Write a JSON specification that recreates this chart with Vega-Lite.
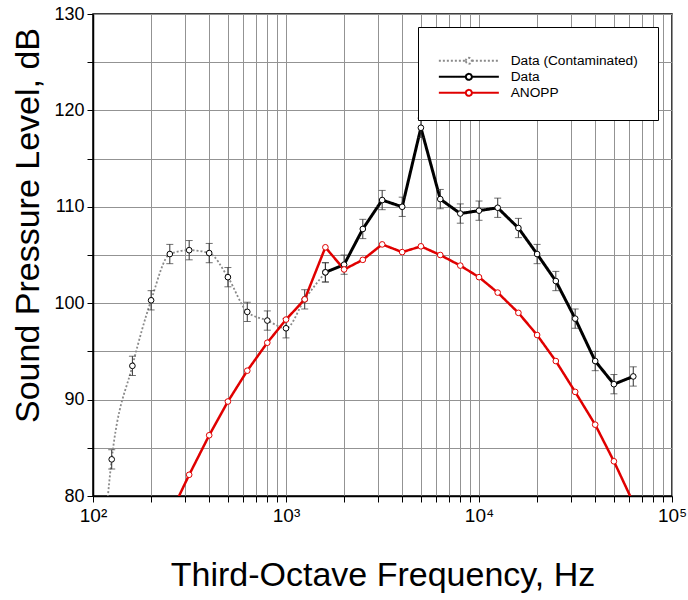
{
  "$schema": "https://vega.github.io/schema/vega-lite/v6.json",
  "autosize": {"type": "none"},
  "padding": {"left": 93, "top": 14, "right": 16, "bottom": 104},
  "width": 579,
  "height": 482,
  "background": "white",
  "config": {
    "font": "Liberation Sans",
    "view": {"stroke": "black", "strokeWidth": 1.5},
    "axis": {
      "labelFont": "Liberation Sans",
      "titleFont": "Liberation Sans",
      "labelColor": "black",
      "titleColor": "black",
      "titleFontWeight": "normal",
      "gridColor": "#939393",
      "gridWidth": 1,
      "gridOpacity": 1,
      "domainColor": "black",
      "domainWidth": 1.5,
      "tickColor": "black",
      "labelOverlap": false,
      "labelFlush": false
    }
  },
  "data": {
    "values": [
      {"freq": 100, "spl": 60, "series": "Data (Contaminated)", "err": 1},
      {"freq": 125, "spl": 83.8, "series": "Data (Contaminated)", "err": 1},
      {"freq": 160, "spl": 93.5, "series": "Data (Contaminated)", "err": 1},
      {"freq": 200, "spl": 100.3, "series": "Data (Contaminated)", "err": 1},
      {"freq": 250, "spl": 105.1, "series": "Data (Contaminated)", "err": 1},
      {"freq": 315, "spl": 105.5, "series": "Data (Contaminated)", "err": 1},
      {"freq": 400, "spl": 105.2, "series": "Data (Contaminated)", "err": 1},
      {"freq": 500, "spl": 102.7, "series": "Data (Contaminated)", "err": 1},
      {"freq": 630, "spl": 99.1, "series": "Data (Contaminated)", "err": 1},
      {"freq": 800, "spl": 98.2, "series": "Data (Contaminated)", "err": 1},
      {"freq": 1000, "spl": 97.4, "series": "Data (Contaminated)", "err": 1},
      {"freq": 1250, "spl": 100.4, "series": "Data (Contaminated)", "err": 1},
      {"freq": 1600, "spl": 103.2, "series": "Data (Contaminated)", "err": 1},
      {"freq": 1600, "spl": 103.2, "series": "Data", "err": 1},
      {"freq": 2000, "spl": 104.0, "series": "Data", "err": 1},
      {"freq": 2500, "spl": 107.7, "series": "Data", "err": 1},
      {"freq": 3150, "spl": 110.7, "series": "Data", "err": 1},
      {"freq": 4000, "spl": 110.0, "series": "Data", "err": 1},
      {"freq": 5000, "spl": 118.2, "series": "Data", "err": 1},
      {"freq": 6300, "spl": 110.8, "series": "Data", "err": 1},
      {"freq": 8000, "spl": 109.3, "series": "Data", "err": 1},
      {"freq": 10000, "spl": 109.6, "series": "Data", "err": 1},
      {"freq": 12500, "spl": 109.9, "series": "Data", "err": 1},
      {"freq": 16000, "spl": 107.8, "series": "Data", "err": 1},
      {"freq": 20000, "spl": 105.1, "series": "Data", "err": 1},
      {"freq": 25000, "spl": 102.3, "series": "Data", "err": 1},
      {"freq": 31500, "spl": 98.4, "series": "Data", "err": 1},
      {"freq": 40000, "spl": 94.0, "series": "Data", "err": 1},
      {"freq": 50000, "spl": 91.6, "series": "Data", "err": 1},
      {"freq": 63000, "spl": 92.4, "series": "Data", "err": 1},
      {"freq": 250, "spl": 78.0, "series": "ANOPP", "err": 0},
      {"freq": 315, "spl": 82.2, "series": "ANOPP", "err": 0},
      {"freq": 400, "spl": 86.3, "series": "ANOPP", "err": 0},
      {"freq": 500, "spl": 89.8, "series": "ANOPP", "err": 0},
      {"freq": 630, "spl": 93.0, "series": "ANOPP", "err": 0},
      {"freq": 800, "spl": 95.9, "series": "ANOPP", "err": 0},
      {"freq": 1000, "spl": 98.3, "series": "ANOPP", "err": 0},
      {"freq": 1250, "spl": 100.4, "series": "ANOPP", "err": 0},
      {"freq": 1600, "spl": 105.8, "series": "ANOPP", "err": 0},
      {"freq": 2000, "spl": 103.5, "series": "ANOPP", "err": 0},
      {"freq": 2500, "spl": 104.5, "series": "ANOPP", "err": 0},
      {"freq": 3150, "spl": 106.1, "series": "ANOPP", "err": 0},
      {"freq": 4000, "spl": 105.3, "series": "ANOPP", "err": 0},
      {"freq": 5000, "spl": 105.9, "series": "ANOPP", "err": 0},
      {"freq": 6300, "spl": 105.0, "series": "ANOPP", "err": 0},
      {"freq": 8000, "spl": 103.9, "series": "ANOPP", "err": 0},
      {"freq": 10000, "spl": 102.7, "series": "ANOPP", "err": 0},
      {"freq": 12500, "spl": 101.1, "series": "ANOPP", "err": 0},
      {"freq": 16000, "spl": 99.0, "series": "ANOPP", "err": 0},
      {"freq": 20000, "spl": 96.7, "series": "ANOPP", "err": 0},
      {"freq": 25000, "spl": 94.0, "series": "ANOPP", "err": 0},
      {"freq": 31500, "spl": 90.8, "series": "ANOPP", "err": 0},
      {"freq": 40000, "spl": 87.4, "series": "ANOPP", "err": 0},
      {"freq": 50000, "spl": 83.6, "series": "ANOPP", "err": 0},
      {"freq": 63000, "spl": 79.3, "series": "ANOPP", "err": 0}
    ]
  },
  "encoding": {
    "x": {
      "field": "freq", "type": "quantitative",
      "scale": {"type": "log", "domain": [100, 100000], "nice": false},
      "axis": {
        "title": "Third-Octave Frequency, Hz",
        "titleFontSize": 34,
        "titlePadding": 33,
        "values": [100,200,300,400,500,600,700,800,900,1000,2000,3000,4000,5000,6000,7000,8000,9000,10000,20000,30000,40000,50000,60000,70000,80000,90000,100000],
        "labelExpr": "datum.value == 100 ? '10²' : datum.value == 1000 ? '10³' : datum.value == 10000 ? '10⁴' : datum.value == 100000 ? '10⁵' : ''",
        "labelFontSize": 19,
        "labelPadding": 4,
        "tickSize": 6,
        "grid": true
      }
    },
    "y": {
      "field": "spl", "type": "quantitative",
      "scale": {"domain": [80, 130], "nice": false, "zero": false},
      "axis": {
        "title": "Sound Pressure Level, dB",
        "titleFontSize": 34,
        "titlePadding": 8,
        "titleY": 211,
        "titleAlign": "center",
        "values": [80,85,90,95,100,105,110,115,120,125,130],
        "labelExpr": "datum.value % 10 == 0 ? datum.label : ''",
        "labelFontSize": 18,
        "labelPadding": 3,
        "tickSize": 6,
        "grid": true
      }
    }
  },
  "layer": [
    {
      "transform": [{"filter": "datum.series == 'Data (Contaminated)'"}],
      "mark": {"type": "line", "strokeWidth": 1.8, "interpolate": "monotone", "clip": true},
      "encoding": {
        "color": {
          "field": "series", "type": "nominal",
          "scale": {"domain": ["Data (Contaminated)", "Data", "ANOPP"], "range": ["#8a8a8a", "black", "#e00000"]},
          "legend": {
            "title": " ",
            "titleFontSize": 5,
            "titlePadding": 2,
            "orient": "none",
            "legendX": 325,
            "legendY": 13,
            "fillColor": "white",
            "strokeColor": "black",
            "padding": 20,
            "symbolType": "M-6,0L-0.6,0M0.6,0L6,0M-0.6,0A0.6,0.6,0,1,1,0.6,0A0.6,0.6,0,1,1,-0.6,0Z",
            "symbolSize": 100,
            "symbolOffset": 24,
            "symbolStrokeWidth": 2,
            "symbolFillColor": "white",
            "labelFont": "Liberation Sans",
            "labelFontSize": 13.7,
            "labelColor": "black",
            "labelOffset": 35,
            "rowPadding": 1
          }
        },
        "strokeDash": {
          "field": "series", "type": "nominal",
          "scale": {"domain": ["Data (Contaminated)", "Data", "ANOPP"], "range": [[2, 2], [1, 0], [1, 0]]}
        }
      }
    },
    {
      "transform": [{"filter": "datum.series == 'Data'"}],
      "mark": {"type": "line", "strokeWidth": 3, "clip": true},
      "encoding": {
        "color": {"field": "series", "type": "nominal"},
        "strokeDash": {"field": "series", "type": "nominal"}
      }
    },
    {
      "transform": [{"filter": "datum.series == 'ANOPP'"}],
      "mark": {"type": "line", "strokeWidth": 2.5, "clip": true},
      "encoding": {
        "color": {"field": "series", "type": "nominal"},
        "strokeDash": {"field": "series", "type": "nominal"}
      }
    },
    {
      "transform": [{"filter": "datum.series != 'ANOPP' && datum.spl >= 80"}],
      "mark": {"type": "errorbar", "color": "#333333", "thickness": 1, "ticks": {"size": 7, "thickness": 1, "color": "#333333"}},
      "encoding": {
        "yError": {"field": "err"}
      }
    },
    {
      "transform": [{"filter": "datum.spl >= 80"}],
      "mark": {"type": "point", "shape": "circle", "filled": true, "fill": "white", "size": 32, "strokeWidth": 1, "opacity": 1},
      "encoding": {
        "stroke": {
          "field": "series", "type": "nominal",
          "scale": {"domain": ["Data (Contaminated)", "Data", "ANOPP"], "range": ["black", "black", "#e00000"]},
          "legend": null
        }
      }
    }
  ]
}
